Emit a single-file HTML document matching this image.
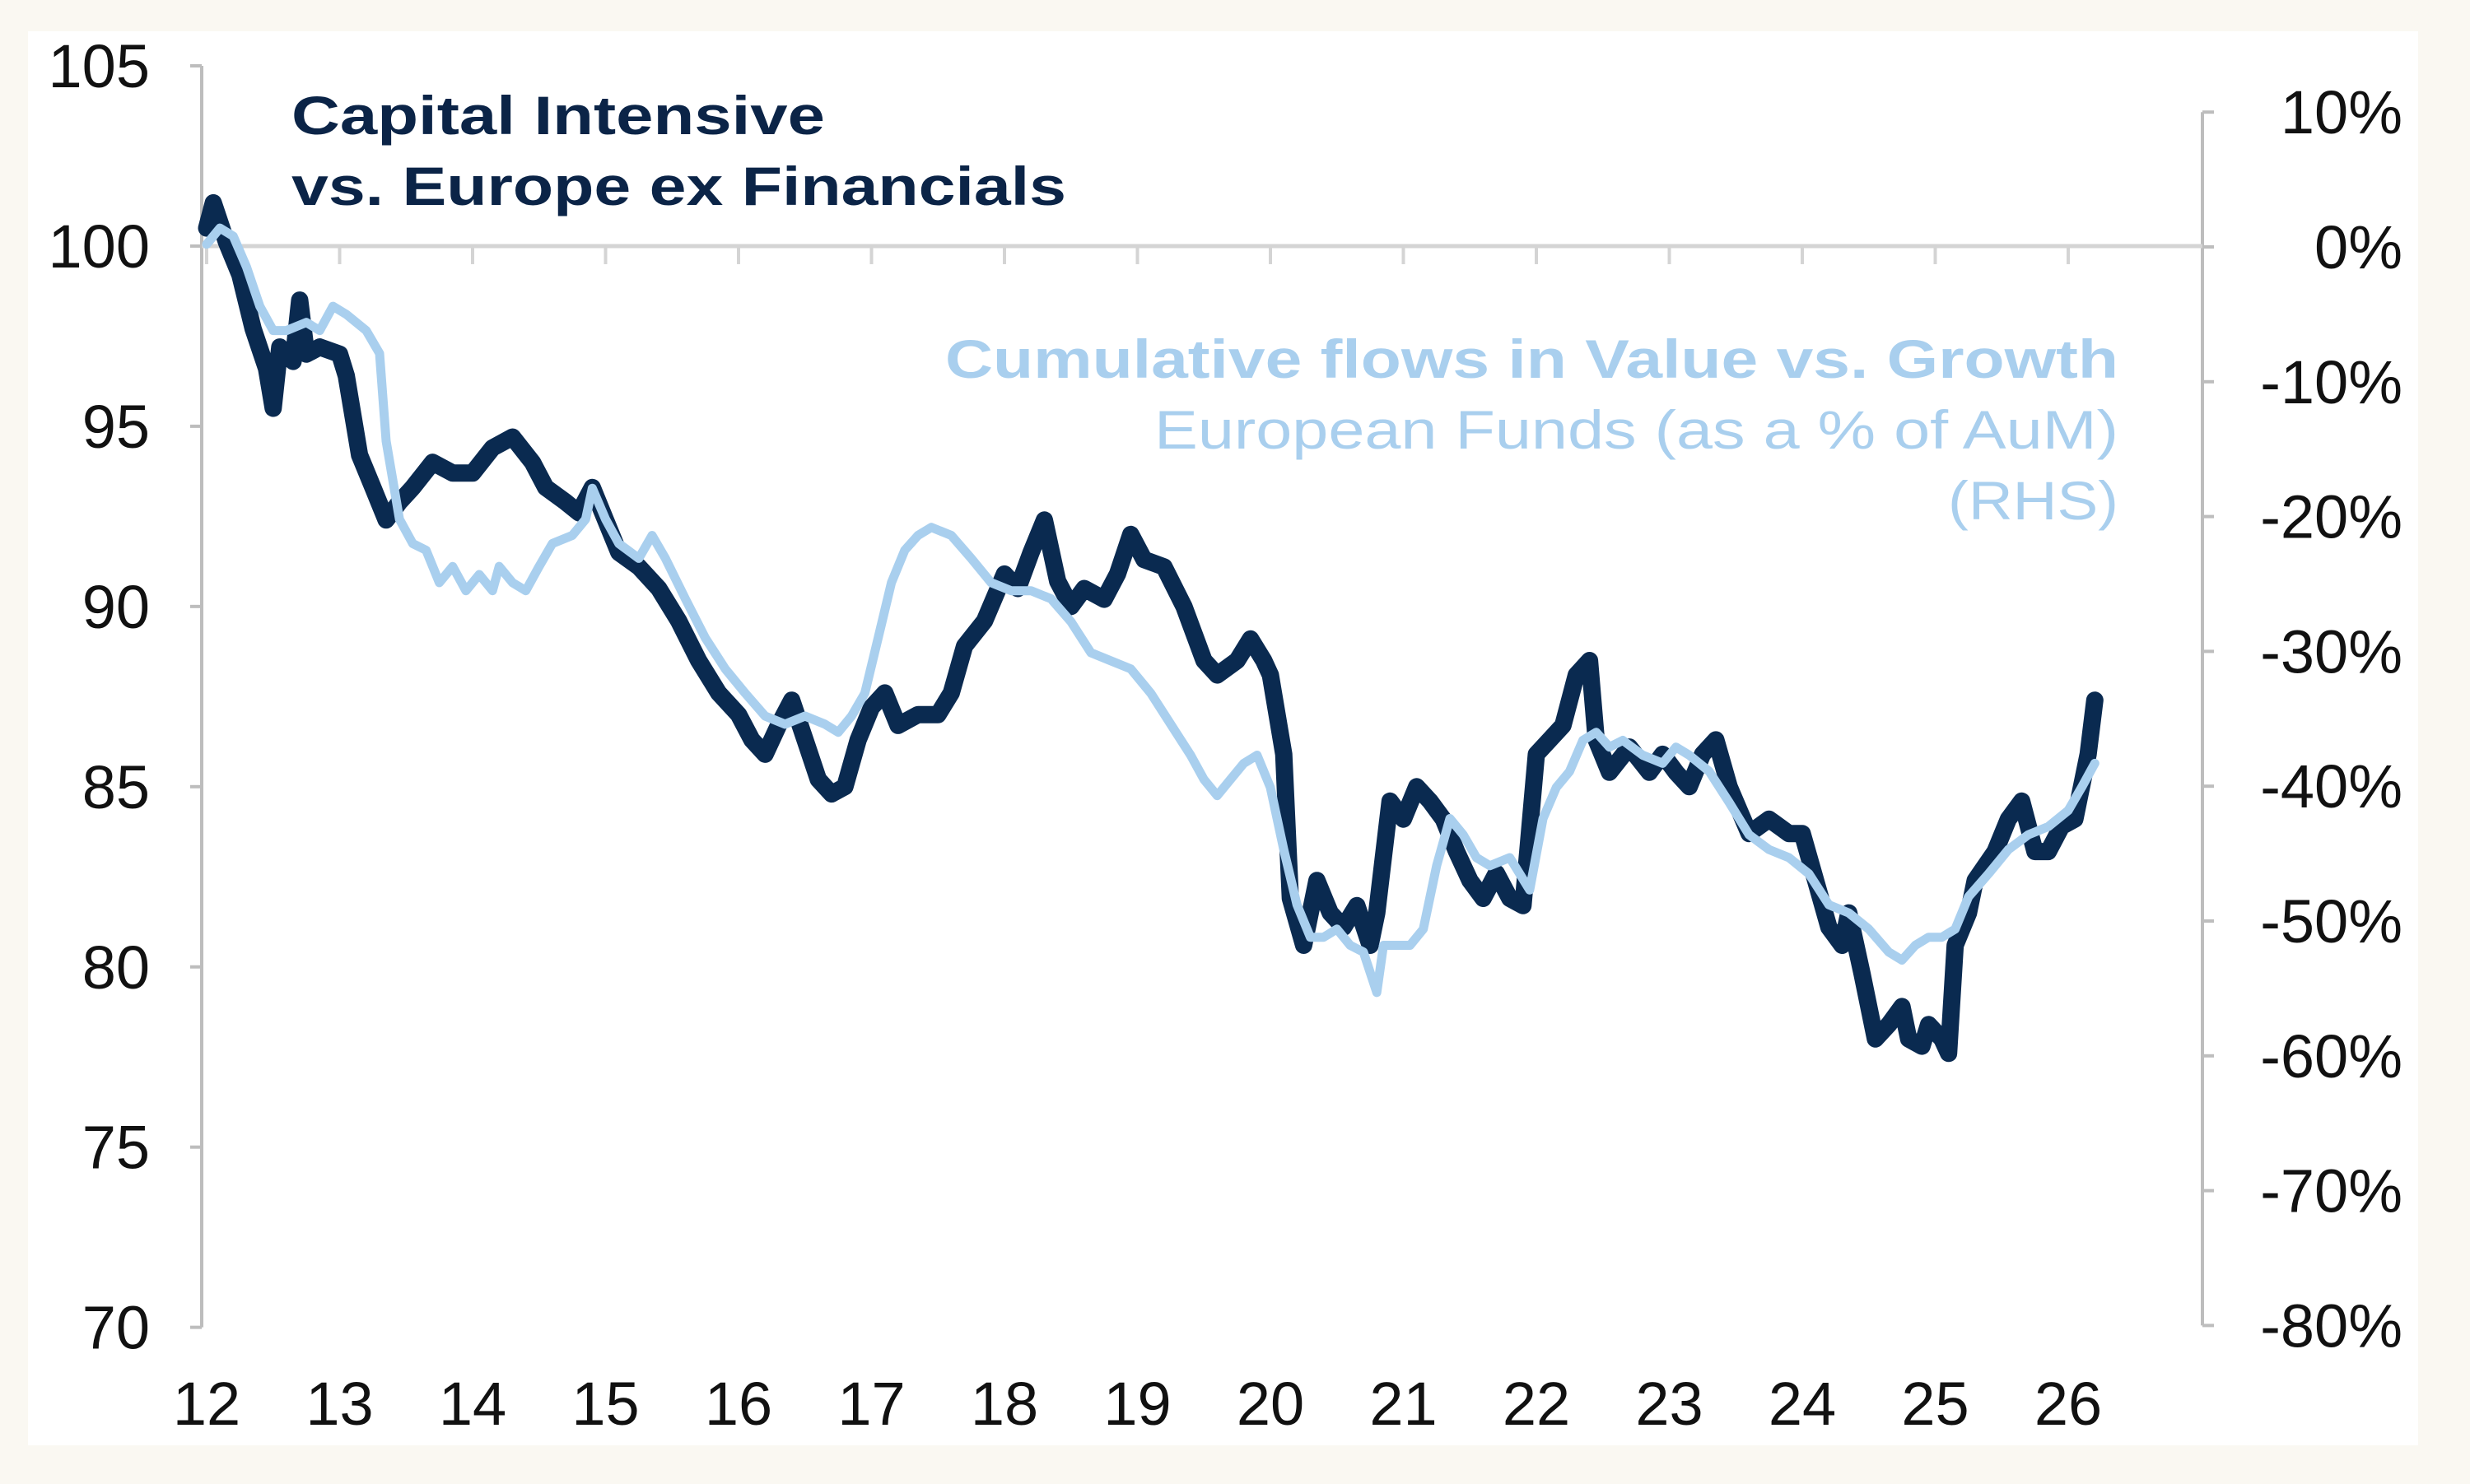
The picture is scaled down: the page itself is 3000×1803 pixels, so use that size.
<!DOCTYPE html>
<html><head><meta charset="utf-8"><style>
html,body{margin:0;padding:0;background:#faf8f2;}
svg{display:block;font-family:"Liberation Sans",Arial,sans-serif;}
</style></head><body>
<svg id="chart" width="3000" height="1803" viewBox="0 0 3000 1803" xmlns="http://www.w3.org/2000/svg">
<rect x="0" y="0" width="3000" height="1803" fill="#faf8f2"/>
<rect x="34" y="38" width="2903" height="1718" fill="#ffffff"/>
<g id="axes"></g>
<g id="series"></g>
<text x="354" y="163" font-size="66" font-weight="bold" fill="#0b2447" textLength="648" lengthAdjust="spacingAndGlyphs">Capital Intensive</text>
<text x="354" y="249" font-size="66" font-weight="bold" fill="#0b2447" textLength="941" lengthAdjust="spacingAndGlyphs">vs. Europe ex Financials</text>
<text x="1148" y="459" font-size="66" font-weight="bold" fill="#a9cfee" textLength="1425" lengthAdjust="spacingAndGlyphs">Cumulative flows in Value vs. Growth</text>
<text x="1402" y="545" font-size="66" fill="#a9cfee" textLength="1171" lengthAdjust="spacingAndGlyphs">European Funds (as a % of AuM)</text>
<text x="2366" y="631" font-size="66" fill="#a9cfee" textLength="207" lengthAdjust="spacingAndGlyphs">(RHS)</text>
</svg>
<script>
const leftTicks = [105,100,95,90,85,80,75,70];
const rightTicks = [10,0,-10,-20,-30,-40,-50,-60,-70,-80];
const yearTicks = [12,13,14,15,16,17,18,19,20,21,22,23,24,25,26];

const relYears = [12.0,12.05,12.15,12.25,12.35,12.45,12.5,12.55,12.65,12.7,12.75,12.85,13.0,13.05,13.15,13.25,13.35,13.45,13.55,13.7,13.85,14.0,14.15,14.3,14.45,14.55,14.7,14.8,14.9,15.0,15.1,15.25,15.4,15.55,15.7,15.85,16.0,16.1,16.2,16.3,16.4,16.5,16.6,16.7,16.8,16.9,17.0,17.1,17.2,17.35,17.5,17.6,17.7,17.85,18.0,18.1,18.2,18.3,18.4,18.5,18.6,18.75,18.85,18.95,19.05,19.2,19.35,19.5,19.6,19.75,19.85,19.95,20.0,20.1,20.15,20.25,20.35,20.45,20.55,20.65,20.75,20.8,20.9,21.0,21.1,21.2,21.3,21.4,21.5,21.6,21.7,21.8,21.9,22.0,22.1,22.2,22.3,22.4,22.45,22.55,22.7,22.85,22.95,23.05,23.15,23.25,23.35,23.45,23.6,23.75,23.9,24.0,24.1,24.2,24.3,24.35,24.45,24.55,24.65,24.75,24.8,24.9,24.95,25.05,25.1,25.15,25.25,25.3,25.45,25.55,25.65,25.75,25.85,25.95,26.05,26.15,26.2];
const relValues = [100.5,101.2,100.1,99.2,97.7,96.6,95.5,97.2,96.8,98.5,97.0,97.2,97.0,96.4,94.2,93.3,92.4,92.9,93.3,94.0,93.7,93.7,94.4,94.7,94.0,93.3,92.9,92.6,93.3,92.4,91.5,91.1,90.5,89.6,88.5,87.6,87.0,86.3,85.9,86.7,87.4,86.3,85.2,84.8,85.0,86.3,87.2,87.6,86.7,87.0,87.0,87.6,88.9,89.6,90.9,90.5,91.5,92.4,90.7,90.0,90.5,90.2,90.9,92.0,91.3,91.1,90.0,88.5,88.1,88.5,89.1,88.5,88.1,85.9,81.9,80.6,82.4,81.5,81.1,81.7,80.6,81.5,84.6,84.1,85.0,84.6,84.1,83.2,82.4,81.9,82.6,81.9,81.7,85.9,86.3,86.7,88.1,88.5,86.3,85.4,86.1,85.4,85.9,85.4,85.0,85.9,86.3,85.0,83.7,84.1,83.7,83.7,82.4,81.1,80.6,81.5,79.8,78.0,78.4,78.9,78.0,77.8,78.4,78.0,77.6,80.6,81.5,82.4,83.2,84.1,84.6,83.2,83.2,83.9,84.1,85.9,87.4];

const flowYears = [12.0,12.1,12.2,12.3,12.4,12.5,12.6,12.75,12.85,12.95,13.05,13.2,13.3,13.35,13.45,13.55,13.65,13.75,13.85,13.95,14.05,14.15,14.2,14.3,14.4,14.5,14.6,14.75,14.85,14.9,15.0,15.1,15.25,15.35,15.45,15.6,15.75,15.9,16.05,16.2,16.35,16.5,16.65,16.75,16.85,16.95,17.05,17.15,17.25,17.35,17.45,17.6,17.75,17.9,18.05,18.2,18.35,18.5,18.65,18.8,18.95,19.1,19.25,19.4,19.5,19.6,19.7,19.8,19.9,20.0,20.1,20.2,20.3,20.4,20.5,20.6,20.7,20.8,20.85,20.95,21.05,21.15,21.25,21.35,21.45,21.55,21.65,21.8,21.95,22.05,22.15,22.25,22.35,22.45,22.55,22.65,22.8,22.95,23.05,23.15,23.3,23.45,23.6,23.75,23.9,24.05,24.2,24.35,24.5,24.65,24.75,24.85,24.95,25.05,25.15,25.25,25.4,25.55,25.7,25.85,26.0,26.1,26.2];
const flowValues = [0.2,1.4,0.8,-1.5,-4.4,-6.2,-6.2,-5.6,-6.2,-4.4,-5.0,-6.2,-7.9,-14.4,-20.2,-22.0,-22.5,-24.9,-23.7,-25.5,-24.3,-25.5,-23.7,-24.9,-25.5,-23.7,-22.0,-21.4,-20.2,-17.9,-20.2,-22.0,-23.1,-21.4,-23.1,-26.1,-29.0,-31.3,-33.1,-34.8,-35.4,-34.8,-35.4,-36.0,-34.8,-33.1,-29.0,-24.9,-22.5,-21.4,-20.8,-21.4,-23.1,-24.9,-25.5,-25.5,-26.1,-27.8,-30.1,-30.7,-31.3,-33.1,-35.4,-37.7,-39.5,-40.7,-39.5,-38.3,-37.7,-40.1,-44.7,-48.8,-51.2,-51.2,-50.6,-51.8,-52.3,-55.3,-51.8,-51.8,-51.8,-50.6,-45.9,-42.4,-43.6,-45.3,-45.9,-45.3,-47.7,-42.4,-40.1,-38.9,-36.6,-36.0,-37.1,-36.6,-37.7,-38.3,-37.1,-37.7,-38.9,-41.2,-43.6,-44.7,-45.3,-46.5,-48.8,-49.4,-50.6,-52.3,-52.9,-51.8,-51.2,-51.2,-50.6,-48.2,-46.5,-44.7,-43.6,-43.0,-41.8,-40.1,-38.3];

const NS = "http://www.w3.org/2000/svg";
const xScale = yr => 251 + (yr - 12) * 161.5;
const yLeft = v => 80 + (105 - v) * 43.79;
const yRight = p => 300 - p * 16.38;
const axes = document.getElementById('axes');
const series = document.getElementById('series');
function mk(tag, attrs, parent){const e=document.createElementNS(NS,tag);for(const k in attrs)e.setAttribute(k,attrs[k]);parent.appendChild(e);return e;}

let el = mk('line',{x1:245,y1:yLeft(105),x2:245,y2:yLeft(70),stroke:'#bdbdbd','stroke-width':4},axes);


el = mk('line',{x1:2675,y1:yRight(10),x2:2675,y2:yRight(-80),stroke:'#bdbdbd','stroke-width':4},axes);


el = mk('line',{x1:245,y1:yLeft(100),x2:2675,y2:yLeft(100),stroke:'#d4d4d4','stroke-width':5},axes);



leftTicks.forEach(v=>{
  const t = mk('line',{x1:231,y1:yLeft(v),x2:245,y2:yLeft(v),stroke:'#bdbdbd','stroke-width':4},axes);
  
  
  const tx = mk('text',{x:182,y:yLeft(v)+26,'text-anchor':'end','font-size':74,fill:'#111'},axes);
  tx.textContent = String(v);
  
  
});
rightTicks.forEach(p=>{
  const t = mk('line',{x1:2675,y1:yRight(p),x2:2689,y2:yRight(p),stroke:'#bdbdbd','stroke-width':4},axes);
  
  
  const tx = mk('text',{x:2918,y:yRight(p)+26,'text-anchor':'end','font-size':74,fill:'#111'},axes);
  tx.textContent = p + '%';
  
  
});
yearTicks.forEach(yr=>{
  const t = mk('line',{x1:xScale(yr),y1:yLeft(100),x2:xScale(yr),y2:yLeft(100)+22,stroke:'#d4d4d4','stroke-width':4},axes);
  
  
  const tx = mk('text',{x:xScale(yr),y:1731,'text-anchor':'middle','font-size':74,fill:'#111'},axes);
  tx.textContent = String(yr);
  
  
});

const dDark = relYears.map((yr,i)=>(i?'L':'M')+xScale(yr).toFixed(1)+','+yLeft(relValues[i]).toFixed(1)).join('');
let p1 = mk('path',{d:dDark,fill:'none',stroke:'#0a2a50','stroke-width':21,'stroke-linejoin':'round','stroke-linecap':'round'},series);


const dLight = flowYears.map((yr,i)=>(i?'L':'M')+xScale(yr).toFixed(1)+','+yRight(flowValues[i]).toFixed(1)).join('');
let p2 = mk('path',{d:dLight,fill:'none',stroke:'#a9cfee','stroke-width':11,'stroke-linejoin':'round','stroke-linecap':'round'},series);


</script>
</body></html>
